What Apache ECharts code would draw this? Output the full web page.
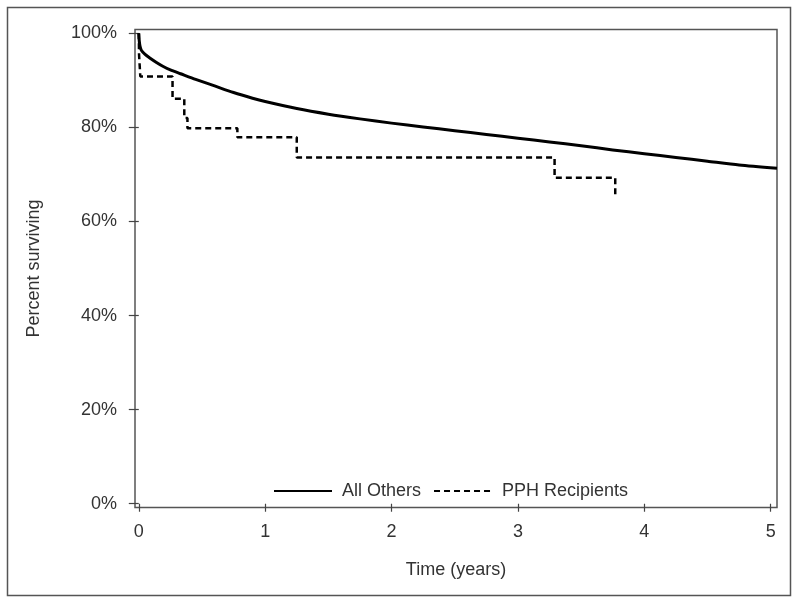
<!DOCTYPE html>
<html>
<head>
<meta charset="utf-8">
<script src="https://cdn.jsdelivr.net/npm/echarts@6/dist/echarts.min.js"></script>
<style>html,body{margin:0;padding:0;background:#fff;}#c{width:800px;height:604px;}</style>
</head>
<body>
<div id="c"></div>
<script>
// ---- Data ----
const seriesNames = ["All Others", "PPH Recipients"];
const timesAllOthers = [0, 0.004, 0.01, 0.02, 0.05, 0.09, 0.14, 0.19, 0.25, 0.33, 0.45, 0.6, 0.75, 0.9, 1.0, 1.25, 1.5, 1.75, 2.0, 2.25, 2.5, 2.75, 3.0, 3.25, 3.5, 3.75, 4.0, 4.25, 4.5, 4.75, 5.05];
const survAllOthers  = [100, 98.3, 97.2, 96.4, 95.5, 94.7, 93.8, 93.0, 92.2, 91.4, 90.2, 88.8, 87.4, 86.2, 85.5, 84.0, 82.8, 81.8, 80.9, 80.1, 79.3, 78.5, 77.7, 76.9, 76.1, 75.2, 74.4, 73.6, 72.8, 72.0, 71.3];
const timesPPH = [0, 0.002, 0.012, 0.267, 0.36, 0.385, 0.78, 1.25, 3.29, 3.77];
const survPPH  = [100, 95.5, 90.8, 86.1, 82.0, 79.8, 77.9, 73.6, 69.3, 65.3];
const xTicks = [0, 1, 2, 3, 4, 5];
const yTicks = [0, 20, 40, 60, 80, 100];

const zip = (a, b) => a.map((v, i) => [v, b[i]]);
const FONT = "'Liberation Sans', Arial, sans-serif";
const TXT = '#333';

const chart = echarts.init(document.getElementById('c'), null, {renderer: 'canvas'});
chart.setOption({
  animation: false,
  backgroundColor: '#fff',
  textStyle: {fontFamily: FONT},
  graphic: [{
    type: 'rect', silent: true,
    shape: {x: 7.5, y: 7.5, width: 783, height: 588},
    style: {fill: 'none', stroke: '#555', lineWidth: 1.5}
  }],
  grid: {
    left: 135, right: 23, top: 29.5, bottom: 96.5,
    show: true, borderColor: '#555', borderWidth: 1.5, backgroundColor: 'transparent'
  },
  legend: {
    left: 273, top: 482, itemWidth: 58, itemHeight: 14, itemGap: 12, padding: 0,
    itemStyle: {opacity: 0},
    textStyle: {fontSize: 18, color: TXT, fontFamily: FONT, padding: [0, 0, 0, 5]},
    data: seriesNames
  },
  xAxis: {
    type: 'value', min: -0.03, max: 5.05,
    name: 'Time (years)', nameLocation: 'middle', nameGap: 54,
    nameTextStyle: {fontSize: 18, color: TXT, fontFamily: FONT},
    axisLine: {show: false},
    axisTick: {show: true, length: 8, customValues: xTicks, lineStyle: {color: '#444', width: 1.2}},
    axisLabel: {customValues: xTicks, fontSize: 18, color: TXT, margin: 16, fontFamily: FONT},
    splitLine: {show: false}
  },
  yAxis: {
    type: 'value', min: -0.8, max: 100.8,
    name: 'Percent surviving', nameLocation: 'middle', nameGap: 92, nameRotate: 90,
    nameTextStyle: {fontSize: 18, color: TXT, fontFamily: FONT},
    axisLine: {show: false},
    axisTick: {show: true, length: 10, customValues: yTicks, lineStyle: {color: '#444', width: 1.2}},
    axisLabel: {customValues: yTicks, fontSize: 18, color: TXT, margin: 18, fontFamily: FONT,
      formatter: v => v + '%'},
    splitLine: {show: false}
  },
  series: [
    {
      name: seriesNames[0], type: 'line', data: zip(timesAllOthers, survAllOthers),
      smooth: 0.25, symbol: 'none',
      lineStyle: {color: '#000', width: 3, join: 'round'}, itemStyle: {color: '#000'}
    },
    {
      name: seriesNames[1], type: 'line', data: zip(timesPPH, survPPH),
      step: 'end', symbol: 'none',
      lineStyle: {color: '#000', width: 2.5, type: [6, 4]}, itemStyle: {color: '#000'}
    }
  ]
});
</script>
</body>
</html>
